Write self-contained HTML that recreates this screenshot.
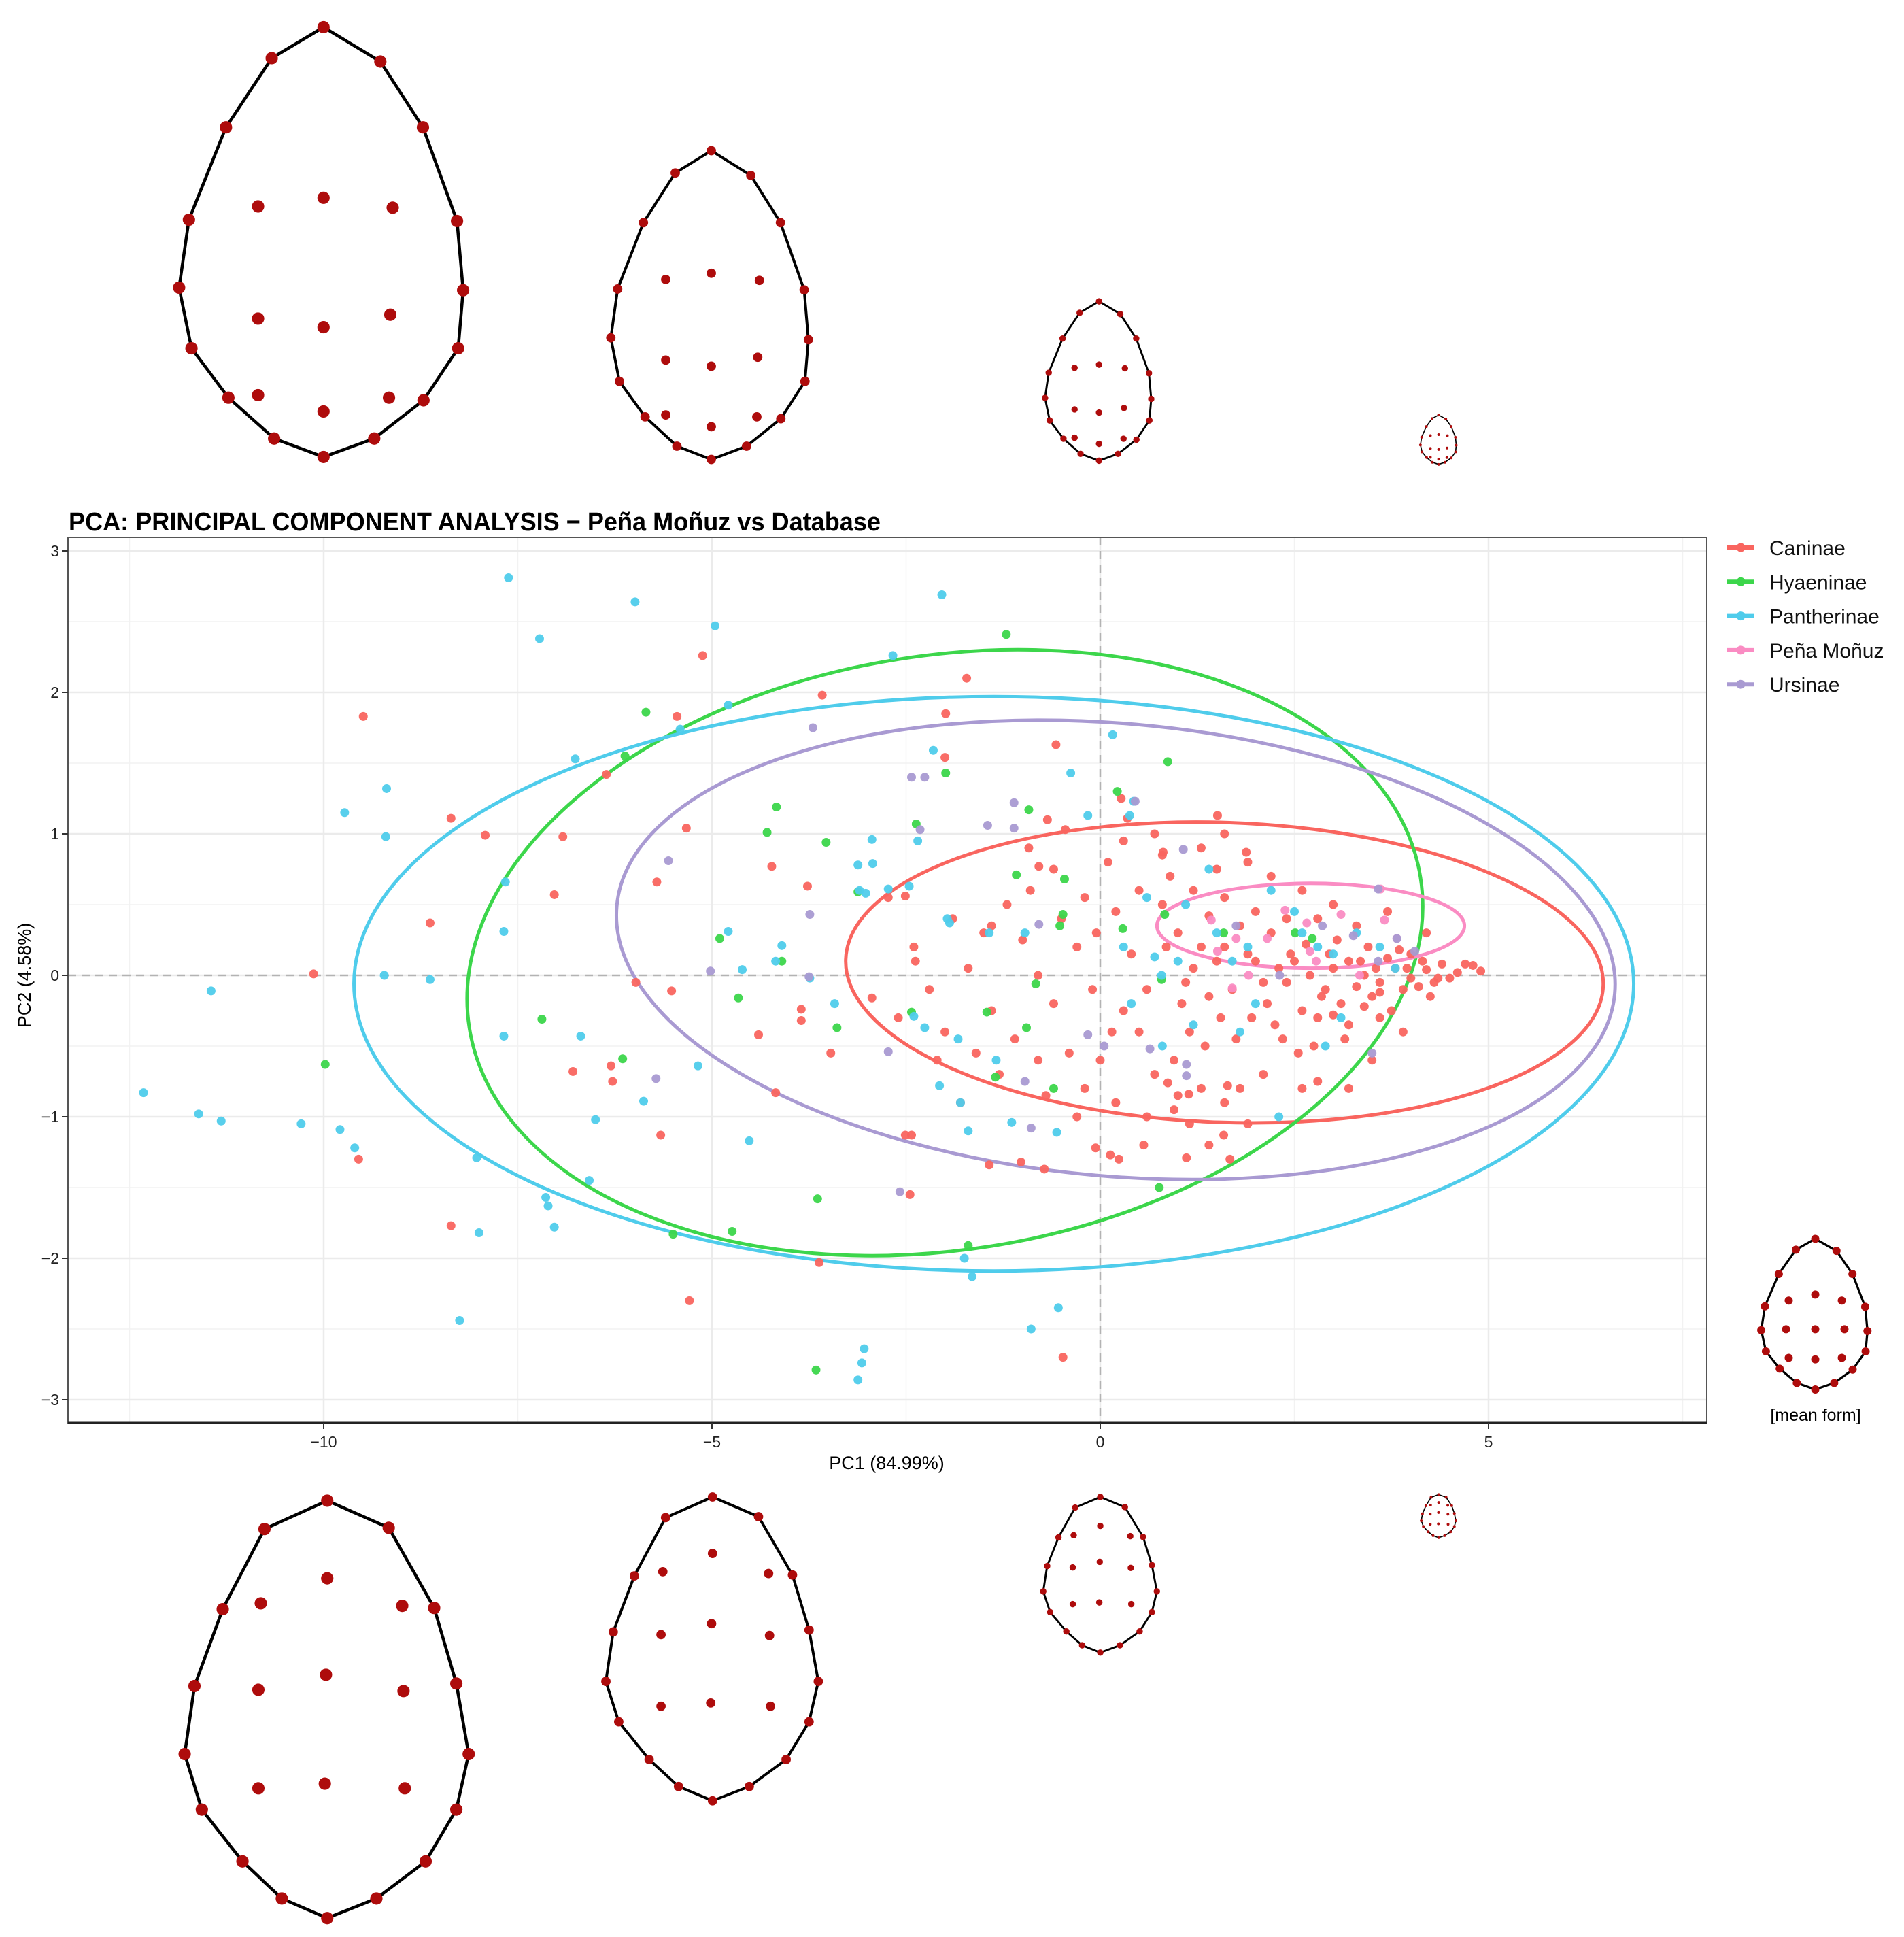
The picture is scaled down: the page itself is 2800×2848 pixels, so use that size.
<!DOCTYPE html>
<html><head><meta charset="utf-8"><style>
html,body{margin:0;padding:0;background:#fff;}
svg{display:block;}
text{font-family:"Liberation Sans",sans-serif;}
</style></head>
<body>
<svg id="root" xmlns="http://www.w3.org/2000/svg" width="2800" height="2848" viewBox="0 0 2800 2848">
<rect x="0" y="0" width="2800" height="2848" fill="#fff"/>
<g id="eggs"></g>
<g id="grid"></g>
<g id="ellipses"></g>
<g id="points"></g>
<g id="axes"></g>
<text x="101" y="780" font-size="38" font-weight="bold" textLength="1194" lengthAdjust="spacingAndGlyphs">PCA: PRINCIPAL COMPONENT ANALYSIS − Peña Moñuz vs Database</text>
<text x="1304" y="2160" font-size="27" text-anchor="middle">PC1 (84.99%)</text>
<text x="0" y="0" font-size="27" text-anchor="middle" transform="translate(45,1434) rotate(-90)">PC2 (4.58%)</text>
<g id="legend"></g>
<text x="2670" y="2089" font-size="25" text-anchor="middle">[mean form]</text>
</svg>
<script>
const xTicks = [-10, -5, 0, 5];
const yTicks = [-3, -2, -1, 0, 1, 2, 3];
const xMinor = [-12.5, -7.5, -2.5, 2.5, 7.5];
const yMinor = [-2.5, -1.5, -0.5, 0.5, 1.5, 2.5];
const groups = ["Caninae", "Hyaeninae", "Pantherinae", "Peña Moñuz", "Ursinae"];
const groupColors = ["#F9655F", "#3CD64B", "#4FCCEB", "#FA8CC3", "#A99AD2"];
// ellipse centres / semi-axes (data units) / tilt (deg)
const ellipseCx = [1.6, -2.0, -1.37, 2.71, 0.2];
const ellipseCy = [0.02, 0.16, -0.06, 0.35, 0.18];
const ellipseRx = [4.88, 6.2, 8.24, 1.98, 6.45];
const ellipseRy = [1.06, 2.1, 2.03, 0.30, 1.6];
const ellipseTilt = [2, -9, 0, 0, 5];

const caninae = [
[-9.49,1.83],[-5.12,2.26],[-3.58,1.98],[-1.72,2.1],[-1.99,1.85],[-5.45,1.83],[-2.0,1.54],[-0.57,1.63],[-6.36,1.42],[-7.92,0.99],[-6.92,0.98],[-8.36,1.11],[-7.03,0.57],[-5.71,0.66],[-5.33,1.04],[-8.63,0.37],[-10.13,0.01],[-5.98,-0.05],[-5.52,-0.11],[-6.79,-0.68],[-6.3,-0.64],[-6.28,-0.75],[-5.66,-1.13],[-9.55,-1.3],[-8.36,-1.77],[-5.29,-2.3],[-4.18,-0.83],[-4.4,-0.42],[-3.85,-0.32],[-3.85,-0.24],[-4.23,0.77],[-3.77,0.63],[-3.62,-2.03],[-2.45,-1.55],[-2.51,-1.13],[-2.43,-1.13],[-0.48,-2.7],[-1.43,-1.34],[-1.02,-1.32],[-0.72,-1.37],[-0.06,-1.22],[0.13,-1.27],[0.24,-1.3],[0.56,-1.2],[1.11,-1.29],[1.67,-1.3],[1.59,-1.13],[1.64,-0.78],[0.87,-0.76],[1.14,-0.84],[-2.94,-0.16],[-3.47,-0.55],[-2.38,0.1],[-2.51,0.56],[-2.73,0.55],[-1.4,0.35],[-0.79,0.77],[-0.92,0.9],[-0.68,1.1],[-0.45,1.03],[0.35,1.11],[0.27,1.25],[1.51,1.13],[0.81,0.87],[1.88,0.87],
[3.0,0.05],[3.2,0.1],[3.4,0.0],[3.6,-0.05],[3.8,0.05],[4.0,-0.02],[4.2,0.04],[4.4,0.08],[4.6,0.02],[4.8,0.07],[4.9,0.03],[3.9,-0.1],[3.7,0.12],[3.5,-0.15],[3.3,-0.08],[3.1,-0.2],[2.9,-0.1],[2.7,0.0],[2.5,0.1],[2.3,0.05],[2.1,-0.05],[1.9,0.15],[1.7,-0.1],[1.5,0.1],[1.3,0.2],[1.1,-0.05],[2.6,-0.25],[2.8,-0.3],[3.0,-0.28],[3.2,-0.35],[3.4,-0.22],[3.6,-0.12],[4.1,-0.08],[4.3,-0.05],[4.5,-0.02],[3.85,0.18],[3.45,0.2],[3.05,0.25],[2.65,0.22],[2.2,0.3],[1.8,0.35],[1.4,0.42],[1.0,0.3],[0.8,0.5],[0.9,0.7],[1.2,0.6],[1.6,0.55],[2.0,0.45],[2.4,0.4],[2.8,0.4],[3.3,0.35],[2.15,-0.2],[1.95,-0.3],[1.75,-0.45],[1.55,-0.3],[1.35,-0.5],[1.15,-0.4],[0.95,-0.6],[2.35,-0.45],[2.55,-0.55],[2.75,-0.5],[3.15,-0.45],[3.5,-0.6],[2.1,-0.7],[1.8,-0.8],[2.8,-0.75],[3.2,-0.8],[1.6,-0.9],[1.3,-0.8],[1.0,-0.85],[0.7,-0.7],[0.5,-0.4],[0.3,-0.25],[0.6,-0.1],[0.4,0.15],[0.2,0.45],[0.5,0.6],[0.8,0.85],[1.3,0.9],[1.5,0.75],[1.9,0.8],[0.1,0.8],[-0.2,0.55],[-0.5,0.4],[-0.3,0.2],[-0.1,-0.1],[-0.6,-0.2],[-0.8,0.0],[-1.0,0.25],[-1.2,0.5],[-1.5,0.3],[-1.7,0.05],[-1.4,-0.25],[-1.1,-0.45],[-0.8,-0.6],[-0.4,-0.55],[0.0,-0.6],[0.2,-0.9],[0.6,-1.0],[-0.2,-0.8],[-0.7,-0.85],[-1.3,-0.7],[-1.6,-0.55],[-2.0,-0.4],[-2.2,-0.1],[-2.4,0.2],[-2.6,-0.3],[-1.9,0.4],[-0.9,0.6],[-0.6,0.75],[0.3,0.95],[0.7,1.0],[1.6,1.0],[2.2,0.7],[2.6,0.6],[3.0,0.5],[3.7,0.45],[4.2,0.3],[1.2,0.05],[1.4,-0.15],[1.6,0.2],[2.4,-0.05],[2.0,0.1],[3.35,0.1],[3.75,-0.25],[4.0,0.15],[4.25,-0.15],[4.7,0.08],[2.95,0.15],[2.45,0.15],[2.85,-0.15],[3.55,0.05],[3.95,0.05],[4.15,0.1],[4.35,-0.02],[2.25,-0.35],[1.05,-0.2],[0.85,0.2],[-0.05,0.3],[0.15,-0.4],[-1.8,-0.9],[-2.1,-0.6],[-0.3,-1.0],[1.4,-1.2],[2.6,-0.8],[3.6,-0.3],[3.9,-0.4],[1.9,-1.05],[0.95,-0.95],[1.15,-1.05]
];
const hyaeninae = [
[-1.21,2.41],[-5.85,1.86],[-6.12,1.55],[-4.17,1.19],[-4.29,1.01],[-3.53,0.94],[-2.37,1.07],[-1.99,1.43],[-0.92,1.17],[0.22,1.3],[0.87,1.51],[-1.08,0.71],[-0.46,0.68],[-0.48,0.43],[-0.83,-0.06],[-0.95,-0.37],[-1.46,-0.26],[-1.35,-0.72],[-0.6,-0.8],[-2.43,-0.26],[-3.39,-0.37],[-4.1,0.1],[-4.66,-0.16],[-4.9,0.26],[-7.19,-0.31],[-6.15,-0.59],[-9.98,-0.63],[-5.5,-1.83],[-4.74,-1.81],[-3.64,-1.58],[-3.66,-2.79],[-1.7,-1.91],[0.76,-1.5],[0.79,-0.03],[0.29,0.33],[1.59,0.3],[2.51,0.3],[2.73,0.26],[0.83,0.43],[-0.52,0.35],[-3.12,0.59]
];
const pantherinae = [
[-7.62,2.81],[-5.99,2.64],[-2.04,2.69],[-4.96,2.47],[-7.22,2.38],[-2.67,2.26],[-9.73,1.15],[-9.19,1.32],[-9.2,0.98],[-6.76,1.53],[-5.41,1.74],[-4.79,1.91],[-7.66,0.66],[-7.68,0.31],[-9.22,0.0],[-8.63,-0.03],[-11.45,-0.11],[-12.32,-0.83],[-11.61,-0.98],[-11.32,-1.03],[-10.29,-1.05],[-9.79,-1.09],[-9.6,-1.22],[-8.03,-1.29],[-8.0,-1.82],[-8.25,-2.44],[-7.11,-1.63],[-7.14,-1.57],[-7.03,-1.78],[-6.58,-1.45],[-6.5,-1.02],[-6.69,-0.43],[-7.68,-0.43],[-5.88,-0.89],[-5.18,-0.64],[-4.52,-1.17],[-4.79,0.31],[-4.61,0.04],[-4.18,0.1],[-4.1,0.21],[-3.74,-0.02],[-3.42,-0.2],[-3.12,0.78],[-3.02,0.58],[-3.1,0.6],[-2.93,0.79],[-2.73,0.61],[-2.46,0.63],[-1.97,0.4],[-1.94,0.37],[-2.4,-0.29],[-2.26,-0.37],[-2.07,-0.78],[-1.83,-0.45],[-1.8,-0.9],[-1.7,-1.1],[-1.34,-0.6],[-1.14,-1.04],[-1.43,0.3],[-0.97,0.3],[-0.56,-1.11],[-0.54,-2.35],[-0.89,-2.5],[-3.07,-2.74],[-3.04,-2.64],[-3.12,-2.86],[-1.65,-2.13],[-1.75,-2.0],[-2.94,0.96],[-2.35,0.95],[-2.15,1.59],[-0.38,1.43],[-0.16,1.13],[0.16,1.7],[0.38,1.13],[0.43,1.23],[0.7,0.13],[0.79,0.0],
[1.1,0.5],[1.5,0.3],[2.0,-0.2],[2.5,0.45],[2.8,0.2],[3.0,0.15],[3.3,0.3],[1.8,-0.4],[1.2,-0.35],[2.3,-1.0],[2.9,-0.5],[3.6,0.2],[1.0,0.1],[0.4,-0.2],[0.6,0.55],[1.4,0.75],[2.6,0.3],[3.8,0.05],[0.3,0.2],[1.7,0.1],[2.2,0.6],[3.1,-0.3],[0.8,-0.5],[1.9,0.2]
];
const penaMonuz = [
[1.51,0.17],[1.75,0.26],[2.15,0.26],[2.66,0.37],[2.7,0.17],[3.1,0.43],[3.66,0.39],[3.82,0.26],[3.61,0.61],[2.38,0.46],[1.91,0.0],[1.7,-0.09],[2.78,0.1],[3.34,0.0],[1.43,0.39]
];
const ursinae = [
[-3.7,1.75],[-5.56,0.81],[-5.02,0.03],[-5.72,-0.73],[-3.74,0.43],[-3.75,-0.01],[-2.43,1.4],[-2.26,1.4],[-2.32,1.03],[-1.45,1.06],[-1.11,1.04],[-1.11,1.22],[-0.79,0.36],[-2.73,-0.54],[-2.58,-1.53],[-0.89,-1.08],[-0.97,-0.75],[0.05,-0.5],[0.45,1.23],[1.07,0.89],[1.11,-0.63],[1.11,-0.71],[3.5,-0.55],[3.58,0.61],[2.86,0.35],[3.26,0.28],[1.75,0.35],[2.31,0.0],[4.05,0.17],[3.82,0.26],[3.58,0.1],[0.64,-0.52],[-0.16,-0.42]
];
const series = [caninae, hyaeninae, pantherinae, penaMonuz, ursinae];

const NS = "http://www.w3.org/2000/svg";
const PL = 100, PR = 2510, PT = 790, PB = 2092;
const X0 = 1618, XU = 114.2, Y0 = 1434, YU = 208;
function sx(v){ return X0 + v * XU; }
function sy(v){ return Y0 - v * YU; }
function mk(tag, attrs, parent){
  const e = document.createElementNS(NS, tag);
  for (const k in attrs) e.setAttribute(k, attrs[k]);
  parent.appendChild(e);
  return e;
}
const grid = document.getElementById('grid');
mk('rect', {x:PL, y:PT, width:PR-PL, height:PB-PT, fill:'#fff'}, grid);
xMinor.forEach(v => { const l = mk('line', {x1:sx(v), x2:sx(v), y1:PT, y2:PB, stroke:'#f2f2f2', 'stroke-width':1.5}, grid);
  
   });
yMinor.forEach(v => { const l = mk('line', {x1:PL, x2:PR, y1:sy(v), y2:sy(v), stroke:'#f2f2f2', 'stroke-width':1.5}, grid);
  
   });
xTicks.forEach(v => { const l = mk('line', {x1:sx(v), x2:sx(v), y1:PT, y2:PB, stroke:'#ebebeb', 'stroke-width':2.5}, grid);
  
   });
yTicks.forEach(v => { const l = mk('line', {x1:PL, x2:PR, y1:sy(v), y2:sy(v), stroke:'#ebebeb', 'stroke-width':2.5}, grid);
  
   });
const zv = mk('line', {x1:sx(0), x2:sx(0), y1:PT, y2:PB, stroke:'#b3b3b3', 'stroke-width':2.5, 'stroke-dasharray':'12 8'}, grid);


const zh = mk('line', {x1:PL, x2:PR, y1:sy(0), y2:sy(0), stroke:'#b3b3b3', 'stroke-width':2.5, 'stroke-dasharray':'12 8'}, grid);



const ell = document.getElementById('ellipses');
groups.forEach((g, i) => {
  const cx = sx(ellipseCx[i]), cy = sy(ellipseCy[i]);
  const e = mk('ellipse', {cx:cx, cy:cy, rx:ellipseRx[i]*XU, ry:ellipseRy[i]*YU, fill:'none', stroke:groupColors[i], 'stroke-width':5,
    transform:'rotate(' + ellipseTilt[i] + ' ' + cx + ' ' + cy + ')'}, ell);
  
  
});

const pts = document.getElementById('points');
series.forEach((s, i) => {
  s.forEach(p => {
    const c = mk('circle', {cx:sx(p[0]), cy:sy(p[1]), r:6.5, fill:groupColors[i], 'fill-opacity':0.95}, pts);
    
    
  });
});

const axes = document.getElementById('axes');
mk('rect', {x:PL, y:PT, width:PR-PL, height:PB-PT, fill:'none', stroke:'#555', 'stroke-width':2}, axes);
mk('line', {x1:PL, x2:PR, y1:PB, y2:PB, stroke:'#222', 'stroke-width':3}, axes);
xTicks.forEach(v => {
  mk('line', {x1:sx(v), x2:sx(v), y1:PB, y2:PB+9, stroke:'#333', 'stroke-width':2}, axes);
  const t = mk('text', {x:sx(v), y:PB+36, 'font-size':23, 'text-anchor':'middle', fill:'#222'}, axes);
  t.textContent = (v < 0 ? '−' + Math.abs(v) : String(v));
  
  
});
yTicks.forEach(v => {
  mk('line', {x1:PL-9, x2:PL, y1:sy(v), y2:sy(v), stroke:'#333', 'stroke-width':2}, axes);
  const t = mk('text', {x:PL-13, y:sy(v)+8, 'font-size':23, 'text-anchor':'end', fill:'#222'}, axes);
  t.textContent = (v < 0 ? '−' + Math.abs(v) : String(v));
  
  
});

const leg = document.getElementById('legend');
groups.forEach((g, i) => {
  const y = 805 + i * 50.3;
  const ge = mk('g', {}, leg);
  
  
  mk('line', {x1:2540, x2:2580, y1:y, y2:y, stroke:groupColors[i], 'stroke-width':6}, ge);
  mk('circle', {cx:2560, cy:y, r:6.5, fill:groupColors[i]}, ge);
  const t = mk('text', {x:2602, y:y+11, 'font-size':30, fill:'#111'}, ge);
  t.textContent = g;
});

// Egg shape templates (normalized: u in [-1,1] half-width, v in [0,1] height)
const tplA_out = [[0,0],[0.4,0.08],[0.70,0.233],[0.94,0.451],[0.983,0.612],[0.948,0.747],[0.704,0.868],[0.357,0.957],[0,1],[-0.348,0.957],[-0.67,0.862],[-0.93,0.747],[-1.017,0.606],[-0.948,0.448],[-0.687,0.233],[-0.365,0.072]];
const tplA_in = [[-0.461,0.417],[0,0.397],[0.487,0.42],[-0.461,0.678],[0,0.698],[0.47,0.669],[-0.461,0.856],[0,0.894],[0.461,0.862]];
const tplM_in = [[-0.5,0.41],[0,0.37],[0.5,0.41],[-0.55,0.60],[0,0.60],[0.55,0.60],[-0.5,0.79],[0,0.80],[0.5,0.79]];
const tplB_out = [[0,0],[0.433,0.065],[0.753,0.257],[0.909,0.438],[0.996,0.607],[0.909,0.74],[0.693,0.864],[0.346,0.953],[0,1],[-0.32,0.953],[-0.597,0.864],[-0.883,0.74],[-1.004,0.607],[-0.935,0.444],[-0.736,0.26],[-0.442,0.068]];
const tplB_in = [[0,0.186],[-0.468,0.246],[0.528,0.252],[-0.485,0.453],[-0.009,0.417],[0.537,0.456],[-0.485,0.689],[-0.017,0.678],[0.546,0.689]];
const F = 1.816;
const eggs = [
 {n:'top-egg-1', cx:262, top:22, h:348, hw:115, out:tplA_out, inn:tplA_in, r:5, w:2.5},
 {n:'top-egg-2', cx:576, top:122, h:250, hw:80, out:tplA_out, inn:tplA_in, r:3.8, w:2.2},
 {n:'top-egg-3', cx:890, top:244, h:129, hw:43, out:tplA_out, inn:tplA_in, r:2.6, w:1.6},
 {n:'top-egg-4', cx:1165, top:336, h:40, hw:14.5, out:tplA_out, inn:tplA_in, r:1.1, w:0.9},
 {n:'bottom-egg-1', cx:265, top:1215, h:338, hw:115, out:tplB_out, inn:tplB_in, r:5, w:2.5},
 {n:'bottom-egg-2', cx:577, top:1212, h:246, hw:86, out:tplB_out, inn:tplB_in, r:3.8, w:2.2},
 {n:'bottom-egg-3', cx:891, top:1212, h:126, hw:46, out:tplB_out, inn:tplB_in, r:2.6, w:1.6},
 {n:'bottom-egg-4', cx:1165, top:1210, h:35, hw:14, out:tplB_out, inn:tplB_in, r:1.1, w:0.9},
 {n:'mean-form-egg', cx:1470, top:1003, h:122, hw:43, out:tplA_out, inn:tplM_in, r:3.3, w:1.8}
];
const eg = document.getElementById('eggs');
eggs.forEach(E => {
  const g = mk('g', {}, eg);
  
  
  const P = E.out.map(p => [(E.cx + p[0]*E.hw)*F, (E.top + p[1]*E.h)*F]);
  mk('polygon', {points:P.map(p => p[0].toFixed(1)+','+p[1].toFixed(1)).join(' '), fill:'none', stroke:'#000', 'stroke-width':E.w*F, 'stroke-linejoin':'round'}, g);
  P.forEach(p => mk('circle', {cx:p[0], cy:p[1], r:E.r*F, fill:'#AE0C0C'}, g));
  E.inn.forEach(p => mk('circle', {cx:(E.cx + p[0]*E.hw)*F, cy:(E.top + p[1]*E.h)*F, r:E.r*F, fill:'#AE0C0C'}, g));
});
</script>
</body></html>
